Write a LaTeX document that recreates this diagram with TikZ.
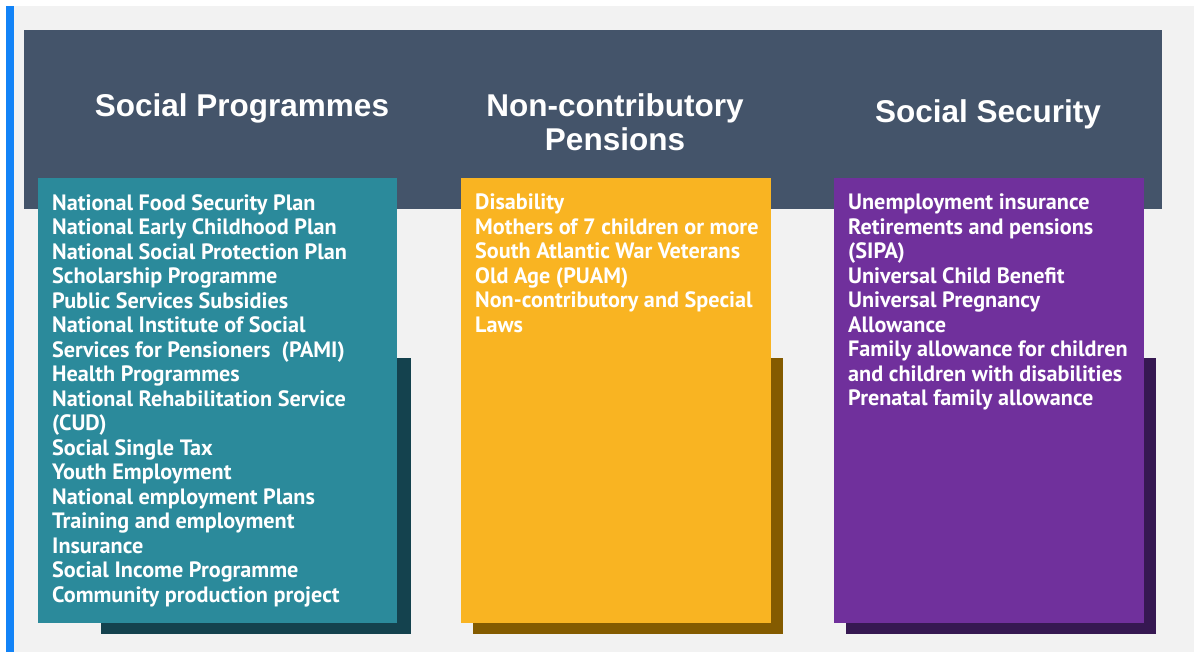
\documentclass[tikz,border=0pt]{standalone}
\usepackage{fontspec}
\setmainfont{Liberation Sans}
\newfontfamily\listfont{PT Sans}
\usetikzlibrary{positioning}
\definecolor{bandgray}{HTML}{44546A}
\definecolor{paper}{HTML}{F2F2F2}
\definecolor{edgeblue}{HTML}{1283F7}
\definecolor{progteal}{HTML}{2B8A9B}
\definecolor{progshade}{HTML}{14424E}
\definecolor{pensyellow}{HTML}{F9B422}
\definecolor{pensshade}{HTML}{845B00}
\definecolor{secpurple}{HTML}{70309C}
\definecolor{secshade}{HTML}{361852}
\tikzset{
    card/.style={rectangle,anchor=north west,inner sep=0pt,minimum width=310pt,minimum height=445pt},
    shade/.style={rectangle,anchor=north west,inner sep=0pt,minimum width=310pt,minimum height=276pt},
    heading/.style={text=white,align=center,font=\fontsize{31.5}{34}\selectfont\bfseries},
    items/.style={text=white,align=left,inner sep=0pt,anchor=north west,font=\listfont\fontsize{22.2}{24.5}\selectfont\bfseries}
}

\begin{document}
\begin{tikzpicture}[x=1pt,y=-1pt]
                    \useasboundingbox (0,0) rectangle (1194,652);
                    \fill[white] (0,0) rectangle (1194,652);
                    \fill[paper] (6,6) rectangle (1194,652);
                    \fill[edgeblue] (6,6) rectangle (14,652);

                    \node[rectangle,fill=bandgray,anchor=north west,inner sep=0pt,minimum width=1138pt,minimum height=179pt] (band) at (24,30) {};

                    % shadows
                    \node[shade,fill=progshade] (prog shade) at (101,358) {};
                    \node[shade,fill=pensshade] (pens shade) at (473,358) {};
                    \node[shade,fill=secshade]  (sec shade)  at (846,358) {};

                    % cards
                    \node[card,fill=progteal,minimum width=359pt] (prog box) at (38,178) {};
                    \node[card,fill=pensyellow] (pens box) at (461,178) {};
                    \node[card,fill=secpurple]  (sec box)  at (834,178) {};

                    \node[heading] (prog title) at (242,108) {Social Programmes};
                    \node[heading] (pens title) at (615,122) {Non-contributory\\Pensions};
                    \node[heading] (sec title)  at (988,114) {Social Security};

                    \node[items] (prog list) [below right=16pt and 14pt of prog box.north west] {National Food Security Plan\\
                        National Early Childhood Plan\\
                        National Social Protection Plan\\
                        Scholarship Programme\\
                        Public Services Subsidies\\
                        National Institute of Social\\
                        Services for Pensioners~~(PAMI)\\
                        Health Programmes\\
                        National Rehabilitation Service\\
                        (CUD)\\
                        Social Single Tax\\
                        Youth Employment\\
                        National employment Plans\\
                        Training and employment\\
                        Insurance\\
                        Social Income Programme\\
                        Community production project};
                    \node[items] (pens list) [below right=16pt and 14pt of pens box.north west] {Disability\\
                        Mothers of 7 children or more\\
                        South Atlantic War Veterans\\
                        Old Age (PUAM)\\
                        Non-contributory and Special\\
                        Laws};
                    \node[items] (sec list)  [below right=16pt and 14pt of sec box.north west] {Unemployment insurance\\
                        Retirements and pensions\\
                        (SIPA)\\
                        Universal Child Benefit\\
                        Universal Pregnancy\\
                        Allowance\\
                        Family allowance for children\\
                        and children with disabilities\\
                        Prenatal family allowance};
                \end{tikzpicture}
\end{document}
